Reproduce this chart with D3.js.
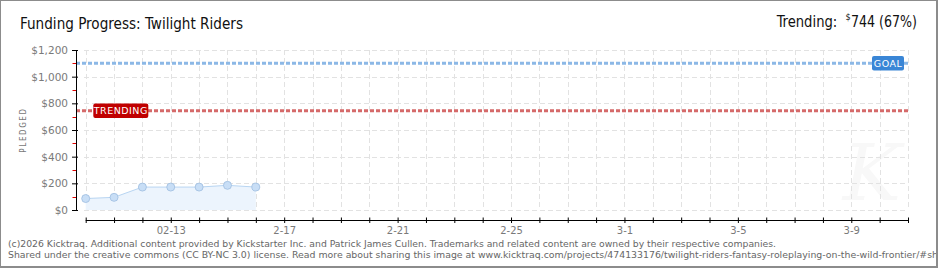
<!DOCTYPE html>
<html><head><meta charset="utf-8">
<script src="https://cdn.jsdelivr.net/npm/d3@7"></script>
<style>
html,body{margin:0;padding:0;background:#fff;}
svg{display:block;}
text{font-family:"DejaVu Sans Condensed","DejaVu Sans",sans-serif;}
</style></head>
<body>
<script>
// ---- data ----
const dates = ["2026-02-10","2026-02-11","2026-02-12","2026-02-13","2026-02-14","2026-02-15","2026-02-16"];
const pledged = [86, 95, 172, 172, 172, 185, 172];
const goal = 1100;
const trending = 744;
const trendingPct = 67;
const yTicks = [0, 200, 400, 600, 800, 1000, 1200];
const yMinorTicks = [100, 300, 500, 700, 900, 1100];
const xLabelDates = ["2026-02-13","2026-02-17","2026-02-21","2026-02-25","2026-03-01","2026-03-05","2026-03-09"];
const xLabels = ["02-13","2-17","2-21","2-25","3-1","3-5","3-9"];
const xStart = "2026-02-10", xEnd = "2026-03-11";
const title = "Funding Progress: Twilight Riders";
const footer1 = "(c)2026 Kicktraq. Additional content provided by Kickstarter Inc. and Patrick James Cullen. Trademarks and related content are owned by their respective companies.";
const footer2 = "Shared under the creative commons (CC BY-NC 3.0) license. Read more about sharing this image at www.kicktraq.com/projects/474133176/twilight-riders-fantasy-roleplaying-on-the-wild-frontier/#sh";

const W = 940, H = 270;
const parse = d3.utcParse("%Y-%m-%d");
const pts = dates.map((d,i)=>({date:parse(d), v:pledged[i]}));

const svg = d3.select("body").append("svg").attr("width",W).attr("height",H);

const x = d3.scaleUtc().domain([parse(xStart), parse(xEnd)]).range([85.7, 908]);
const y = d3.scaleLinear().domain([0,1200]).range([210, 50]);
const xLeft = 76, xRight = 908;

// border
svg.append("rect").attr("x",0).attr("y",0).attr("width",937).attr("height",267)
  .attr("fill","none").attr("stroke","#8c8c8c").attr("stroke-width",2);

// watermark
svg.append("text").attr("x",872).attr("y",200).attr("text-anchor","middle")
  .style("font-family","'DejaVu Serif',serif").style("font-style","italic")
  .style("font-size","78px").attr("fill","#f8f8f8").text("K");

// grid
const days = d3.utcDay.range(parse(xStart), d3.utcDay.offset(parse(xEnd),1));
const grid = svg.append("g").attr("stroke","#e2e2e2").attr("stroke-dasharray","5,3").attr("stroke-width",1);
days.forEach(d=>{
  grid.append("line").attr("x1",Math.round(x(d))+0.5).attr("x2",Math.round(x(d))+0.5)
    .attr("y1",y(1200)).attr("y2",y(0));
});
yTicks.forEach(t=>{
  grid.append("line").attr("x1",xLeft+8).attr("x2",xRight).attr("y1",Math.round(y(t))+0.5).attr("y2",Math.round(y(t))+0.5);
});

// area + line + points
const area = d3.area().x(d=>x(d.date)).y0(y(0)).y1(d=>y(d.v));
svg.append("path").datum(pts).attr("d",area).attr("fill","#ecf4fd");
const line = d3.line().x(d=>x(d.date)).y(d=>y(d.v));
svg.append("path").datum(pts).attr("d",line).attr("fill","none").attr("stroke","#b8d5f2").attr("stroke-width",1);
svg.selectAll("circle.pt").data(pts).enter().append("circle")
  .attr("cx",d=>x(d.date)).attr("cy",d=>y(d.v)).attr("r",4)
  .attr("fill","#c8def6").attr("stroke","#9dbcdf").attr("stroke-width",0.8);

// goal & trending lines
svg.append("line").attr("x1",xLeft).attr("x2",910).attr("y1",y(goal)).attr("y2",y(goal))
  .attr("stroke","#8cb8e6").attr("stroke-width",3).attr("stroke-dasharray","4,2");
svg.append("line").attr("x1",xLeft).attr("x2",910).attr("y1",y(trending)).attr("y2",y(trending))
  .attr("stroke","#d56a6a").attr("stroke-width",3).attr("stroke-dasharray","4,2");

// y axis
const yAxis = d3.axisLeft(y).tickValues(yTicks).tickSize(4).tickPadding(4)
  .tickFormat(d=>"$"+d3.format(",")(d));
const gy = svg.append("g").attr("transform",`translate(${xLeft},0)`).call(yAxis);
gy.select(".domain").attr("stroke","#000").attr("d",`M0.5,${y(1200)}V${y(0)+0.5}`);
gy.selectAll(".tick line").attr("stroke","#000").attr("x1",2).attr("x2",-4);
gy.selectAll(".tick text").attr("fill","#7a7a7a").style("font-family","'DejaVu Sans',sans-serif").style("font-size","10.5px");
const gyMinor = svg.append("g");
yMinorTicks.forEach(t=>{
  gyMinor.append("line").attr("x1",xLeft-3.5).attr("x2",xLeft).attr("y1",Math.round(y(t))+0.5).attr("y2",Math.round(y(t))+0.5)
    .attr("stroke","#e00000").attr("stroke-width",1);
});

// y label
svg.append("text").attr("transform","translate(25.5,130) rotate(-90)").attr("text-anchor","middle")
  .attr("fill","#777").style("font-size","8px").style("letter-spacing","1.6px").text("PLEDGED");

// x axis
const labelMap = new Map(xLabelDates.map((d,i)=>[+parse(d), xLabels[i]]));
const xAxis = d3.axisBottom(x).tickValues(days).tickSize(2.5).tickPadding(4)
  .tickFormat(d=>labelMap.get(+d)||"");
const gx = svg.append("g").attr("transform","translate(0,220)").call(xAxis);
gx.select(".domain").attr("stroke","#000").attr("d",`M${x(parse(xStart))},0.5H${x(parse(xEnd))+0.5}`);
gx.selectAll(".tick line").attr("stroke","#000").attr("y1",-2.5).attr("y2",3);
gx.selectAll(".tick text").attr("fill","#7a7a7a").style("font-family","'DejaVu Sans',sans-serif").style("font-size","10px");

// labels
function tag(cx, cy, w, h, fill, label){
  svg.append("rect").attr("x",cx-w/2).attr("y",cy-h/2).attr("width",w).attr("height",h)
    .attr("rx",2).attr("fill",fill);
  svg.append("text").attr("x",cx).attr("y",cy+3.5).attr("text-anchor","middle").attr("fill","#fff")
    .style("font-family","'DejaVu Sans',sans-serif").style("font-size","9.5px").style("letter-spacing","0.5px").text(label);
}
tag(888, y(goal), 32, 14.5, "#3a86d6", "GOAL");
tag(120.8, y(trending), 55, 14.5, "#c00000", "TRENDING");

// title
svg.append("text").attr("x",20).attr("y",29.3).attr("fill","#111").style("font-size","15.5px")
  .attr("textLength",223).attr("lengthAdjust","spacingAndGlyphs").text(title);
svg.append("text").attr("x",776.7).attr("y",26.7).attr("fill","#111").style("font-size","15.5px")
  .attr("textLength",60.6).attr("lengthAdjust","spacingAndGlyphs").text("Trending:");
svg.append("text").attr("x",845.5).attr("y",20).attr("fill","#111").style("font-size","9px").text("$");
svg.append("text").attr("x",851).attr("y",26.7).attr("fill","#111").style("font-size","15.5px")
  .attr("textLength",66).attr("lengthAdjust","spacingAndGlyphs").text(`${trending} (${trendingPct}%)`);

// footer
svg.append("defs").append("clipPath").attr("id","clipB").append("rect").attr("x",0).attr("y",0).attr("width",936).attr("height",266);
const ft = svg.append("g").attr("clip-path","url(#clipB)");
ft.append("text").attr("x",8).attr("y",247).attr("fill","#666").style("font-size","9.5px")
  .attr("textLength",768).attr("lengthAdjust","spacingAndGlyphs").text(footer1);
ft.append("text").attr("x",8).attr("y",258).attr("fill","#666").style("font-size","9.5px")
  .attr("textLength",930).attr("lengthAdjust","spacingAndGlyphs").text(footer2);
</script>
</body></html>
